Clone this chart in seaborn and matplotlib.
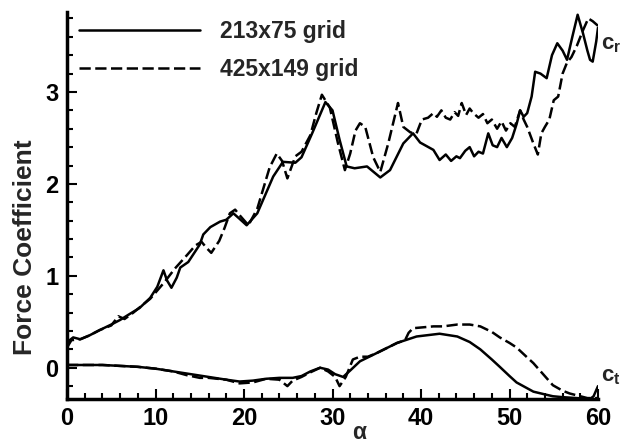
import matplotlib
matplotlib.use("Agg")
import matplotlib.pyplot as plt
from matplotlib.ticker import MultipleLocator
import seaborn as sns

# ---- data ----
cr_coarse_x = [0, 0.3, 0.7, 1.5, 2.5, 3.7, 5, 6, 7, 8.2, 9.4, 10.2, 10.9, 11.3, 11.8, 12.4, 12.8,
               13.7, 15, 15.4, 16.2, 17.3, 18, 18.8, 19.5, 20.3, 21.5, 23.3, 24.4, 25.8, 26.5,
               27.7, 29.2, 30, 30.8, 31.6, 32.5, 33.9, 35.4, 36.5, 38, 39.1, 39.9, 41.4, 42.1,
               42.8, 43.4, 44.0, 44.4, 45, 45.5, 46, 46.5, 47, 47.6, 48.1, 48.6, 49.1, 49.7,
               50.3, 50.8, 51.2, 51.6, 52, 52.5, 52.9, 53.5, 54.2, 54.8, 55.4, 56, 56.5, 57.1,
               57.7, 58.3, 58.8, 59.1, 59.4, 59.8, 60]
cr_coarse_y = [0.22, 0.30, 0.33, 0.31, 0.35, 0.41, 0.47, 0.52, 0.58, 0.65, 0.76, 0.88, 1.06, 0.95,
               0.87, 0.98, 1.09, 1.15, 1.34, 1.45, 1.53, 1.59, 1.61, 1.68, 1.62, 1.55, 1.68, 2.08,
               2.24, 2.23, 2.29, 2.55, 2.89, 2.80, 2.48, 2.19, 2.17, 2.19, 2.07, 2.15, 2.44, 2.55,
               2.45, 2.37, 2.26, 2.32, 2.25, 2.30, 2.28, 2.36, 2.40, 2.30, 2.35, 2.33, 2.55, 2.42,
               2.40, 2.50, 2.40, 2.50, 2.65, 2.80, 2.73, 2.77, 2.95, 3.22, 3.20, 3.15, 3.40, 3.53,
               3.45, 3.35, 3.60, 3.84, 3.64, 3.45, 3.35, 3.33, 3.55, 3.70]

cr_fine_x = [0, 0.5, 1.5, 2.5, 3.7, 5, 5.8, 6.5, 7.5, 8.5, 9.4, 10.2, 11, 12.2, 13.6, 14.5, 15.2,
             15.8, 16.3, 17.2, 17.8, 18.4, 19, 19.5, 20.5, 21.5, 22.9, 23.7, 24.3, 24.9, 25.8,
             26.5, 27.5, 28.2, 28.8, 29.7, 30.6, 31.4, 32, 32.6, 33.1, 33.7, 34.6, 35.4, 36.3,
             37.4, 38, 38.8, 39.5, 40.1, 40.8, 41.4, 41.8, 42.3, 42.8, 43.3, 43.8, 44.2, 44.6,
             45.1, 45.5, 45.9, 46.5, 47, 47.5, 48, 48.6, 49.1, 49.6, 50.1, 50.6, 51.2, 51.6, 52,
             52.7, 53.2, 53.6, 54, 54.5, 55, 55.5, 56, 56.5, 57, 57.6, 58.3, 58.9, 59.4, 60]
cr_fine_y = [0.22, 0.30, 0.31, 0.35, 0.41, 0.46, 0.56, 0.53, 0.60, 0.68, 0.75, 0.84, 0.93, 1.08,
             1.23, 1.33, 1.37, 1.30, 1.25, 1.38, 1.52, 1.68, 1.72, 1.66, 1.55, 1.73, 2.18, 2.33,
             2.25, 2.06, 2.30, 2.35, 2.53, 2.78, 2.97, 2.83, 2.45, 2.15, 2.33, 2.58, 2.66, 2.62,
             2.29, 2.13, 2.44, 2.88, 2.62, 2.56, 2.55, 2.70, 2.72, 2.77, 2.73, 2.80, 2.72, 2.70,
             2.78, 2.74, 2.88, 2.75, 2.82, 2.77, 2.72, 2.76, 2.66, 2.70, 2.60, 2.68, 2.58, 2.66,
             2.62, 2.80, 2.70, 2.62, 2.44, 2.32, 2.55, 2.62, 2.70, 2.91, 2.95, 3.20, 3.32, 3.38,
             3.50, 3.67, 3.80, 3.77, 3.72]

ct_coarse_x = [0, 2, 4, 6, 8, 10, 12, 14, 16, 18, 19.5, 21, 22.5, 24, 25.5, 26.5, 27.5, 28.6,
               29.5, 30.3, 31.2, 32, 33.1, 35, 37.3, 39.5, 42.1, 44.1, 45.5, 46.7, 48, 48.9, 50,
               50.8, 52.7, 54, 54.9, 56, 57.6, 59.1, 59.5, 60]
ct_coarse_y = [0.03, 0.03, 0.03, 0.02, 0.01, -0.01, -0.04, -0.07, -0.10, -0.13, -0.15, -0.14,
               -0.12, -0.11, -0.11, -0.09, -0.04, 0.00, -0.02, -0.07, -0.10, -0.03, 0.07, 0.16,
               0.27, 0.34, 0.37, 0.34, 0.28, 0.20, 0.09, 0.01, -0.09, -0.16, -0.26, -0.29, -0.31,
               -0.32, -0.33, -0.34, -0.31, -0.20]

ct_fine_x = [0, 2, 4, 6, 8, 10, 12, 13.5, 15, 16, 18, 19.5, 21, 22.5, 24, 24.9, 25.5, 26.5,
             27.5, 28.6, 29.5, 30.3, 30.8, 31.5, 32.3, 33.1, 34, 35, 37.3, 38.2, 38.6, 39.1,
             41.4, 42.5, 44.1, 45.5, 46.7, 48, 48.9, 50, 50.8, 51.8, 52.7, 53.8, 54.9, 56, 56.8,
             58, 58.8, 59.5, 60]
ct_fine_y = [0.03, 0.03, 0.03, 0.02, 0.01, -0.01, -0.04, -0.08, -0.11, -0.11, -0.13, -0.17,
             -0.16, -0.12, -0.13, -0.20, -0.14, -0.10, -0.05, 0.00, -0.04, -0.10, -0.20, -0.10,
             0.09, 0.12, 0.12, 0.16, 0.27, 0.30, 0.38, 0.43, 0.45, 0.45, 0.47, 0.47, 0.45, 0.39,
             0.33, 0.27, 0.22, 0.13, 0.05, -0.07, -0.19, -0.25, -0.28, -0.31, -0.33, -0.33, -0.33]

legend_labels = ["213x75 grid", "425x149 grid"]
x_ticks = [0, 10, 20, 30, 40, 50, 60]
y_ticks = [0, 1, 2, 3]

# ---- figure ----
sns.set_style("ticks")
plt.rcParams["font.family"] = ["Liberation Sans", "DejaVu Sans"]
plt.rcParams["font.weight"] = "bold"
plt.rcParams["axes.labelweight"] = "bold"
plt.rcParams["mathtext.fontset"] = "custom"
plt.rcParams["mathtext.rm"] = "Liberation Sans:bold"
plt.rcParams["mathtext.it"] = "Liberation Sans:bold"

FS = 16.5
fig = plt.figure(figsize=(6.22, 4.44), dpi=100)
ax = fig.add_axes([67 / 622, 1 - 399 / 444, 531 / 622, 387 / 444])

lw = 1.8
sns.lineplot(x=cr_coarse_x, y=cr_coarse_y, ax=ax, color="black", lw=lw, sort=False,
             estimator=None, label=legend_labels[0])
sns.lineplot(x=cr_fine_x, y=cr_fine_y, ax=ax, color="black", lw=lw, sort=False,
             estimator=None, label=legend_labels[1])
ax.lines[-1].set_dashes((4.5, 1.8))
sns.lineplot(x=ct_coarse_x, y=ct_coarse_y, ax=ax, color="black", lw=lw, sort=False,
             estimator=None)
sns.lineplot(x=ct_fine_x, y=ct_fine_y, ax=ax, color="black", lw=lw, sort=False,
             estimator=None)
ax.lines[-1].set_dashes((4.5, 1.8))

ax.set_xlim(0, 60)
ax.set_ylim(-0.34, 3.87)
ax.set_xticks(x_ticks)
ax.set_yticks(y_ticks)
ax.xaxis.set_minor_locator(MultipleLocator(2))
ax.yaxis.set_minor_locator(MultipleLocator(0.2))
ax.tick_params(which="both", direction="in", width=1.5, colors="black",
               labelsize=17, pad=6)
ax.tick_params(which="major", length=7)
ax.tick_params(which="minor", length=4)
for s in ["top", "right"]:
    ax.spines[s].set_visible(False)
for s in ["left", "bottom"]:
    ax.spines[s].set_linewidth(2.5)
    ax.spines[s].set_color("black")

ax.set_xlabel(r"$\alpha$", fontsize=FS)
ax.xaxis.set_label_coords((360 - 67) / 531, -0.058)
ax.set_ylabel("Force Coefficient", fontsize=19)
ax.yaxis.set_label_coords((37 - 67) / 531, (399 - 247) / 387)

ax.text(1.005, 0.915, r"c$_\mathregular{r}$", transform=ax.transAxes, fontsize=FS - 0.5,
        ha="left", va="center")
ax.text(1.005, 0.058, r"c$_\mathregular{t}$", transform=ax.transAxes, fontsize=FS - 0.5,
        ha="left", va="center")

leg = ax.legend(loc="upper left", bbox_to_anchor=(12 / 531, 0.98), frameon=False,
                fontsize=FS, handlelength=5.3, handletextpad=0.85, labelspacing=0.65,
                borderpad=0, borderaxespad=0)

fig.savefig("out.png", dpi=100)
